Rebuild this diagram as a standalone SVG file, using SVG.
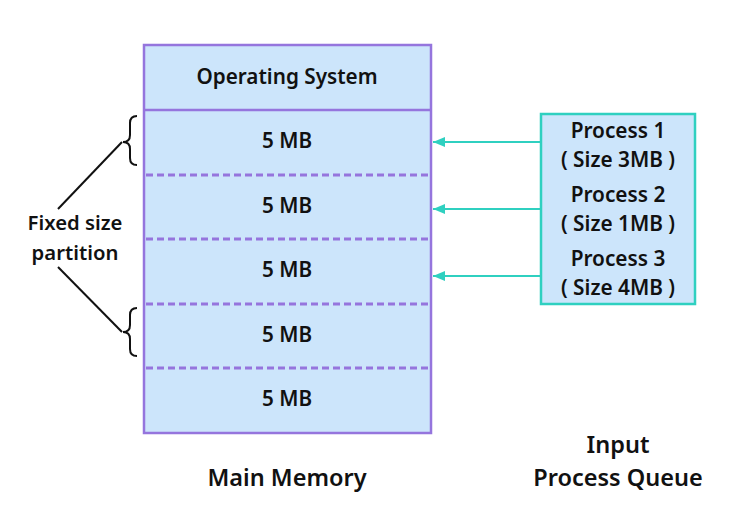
<svg xmlns="http://www.w3.org/2000/svg" width="754" height="520" viewBox="0 0 754 520">
<style>
text{font-family:"Noto Sans","Open Sans",sans-serif;font-weight:600;fill:#111;text-anchor:middle}
.m{font-size:20.7px}
.p{font-size:20.8px}
.f{font-size:20.3px}
.l{font-size:23.5px}
.dash{stroke:#9575dd;stroke-width:3;stroke-dasharray:7 4}
.br{fill:none;stroke:#111;stroke-width:2}
.ar{stroke:#2fd0c0;stroke-width:2;fill:none}
</style>
<defs>
<marker id="ah" viewBox="0 0 12 10" refX="12" refY="5" markerWidth="12" markerHeight="10" markerUnits="userSpaceOnUse" orient="auto">
<path d="M0,0 L12,5 L0,10 z" fill="#2fd0c0"/>
</marker>
</defs>
<rect width="754" height="520" fill="#fff"/>
<g id="memory">
<rect x="144" y="45" width="287" height="388" fill="#cce5fb" stroke="#9575dd" stroke-width="2.5"/>
<line x1="144" y1="110" x2="431" y2="110" stroke="#9575dd" stroke-width="2.5"/>
<line class="dash" x1="146" y1="175" x2="430" y2="175"/>
<line class="dash" x1="146" y1="239" x2="430" y2="239"/>
<line class="dash" x1="146" y1="304" x2="430" y2="304"/>
<line class="dash" x1="146" y1="368" x2="430" y2="368"/>
<text class="m" x="287" y="84">Operating System</text>
<text class="m" x="287" y="148">5 MB</text>
<text class="m" x="287" y="213">5 MB</text>
<text class="m" x="287" y="277">5 MB</text>
<text class="m" x="287" y="342">5 MB</text>
<text class="m" x="287" y="406">5 MB</text>
</g>
<g id="queue">
<rect x="541" y="114" width="154" height="190" fill="#cce5fb" stroke="#2fd0c0" stroke-width="2.5"/>
<text class="p" x="618" y="138">Process 1</text>
<text class="p" x="618" y="167">( Size 3MB )</text>
<text class="p" x="618" y="202">Process 2</text>
<text class="p" x="618" y="231">( Size 1MB )</text>
<text class="p" x="618" y="266">Process 3</text>
<text class="p" x="618" y="295">( Size 4MB )</text>
</g>
<g id="connectors">
<line class="ar" x1="541" y1="142" x2="433" y2="142" marker-end="url(#ah)"/>
<line class="ar" x1="541" y1="209" x2="433" y2="209" marker-end="url(#ah)"/>
<line class="ar" x1="541" y1="276" x2="433" y2="276" marker-end="url(#ah)"/>
</g>
<g id="partition-label">
<path class="br" d="M137,116 Q130,116 130,123 L130,135 Q130,142 123,142 Q130,142 130,149 L130,158 Q130,165 137,165"/>
<path class="br" d="M137,308 Q130,308 130,315 L130,325 Q130,332 123,332 Q130,332 130,339 L130,349 Q130,356 137,356"/>
<line x1="122" y1="142" x2="58" y2="209" stroke="#111" stroke-width="2"/>
<line x1="58" y1="267" x2="122" y2="332" stroke="#111" stroke-width="2"/>
<text class="f" x="75" y="230">Fixed size</text>
<text class="f" x="75" y="260">partition</text>
</g>
<text class="l" x="287" y="486">Main Memory</text>
<text class="l" x="618" y="453">Input</text>
<text class="l" x="618" y="486">Process Queue</text>
</svg>
